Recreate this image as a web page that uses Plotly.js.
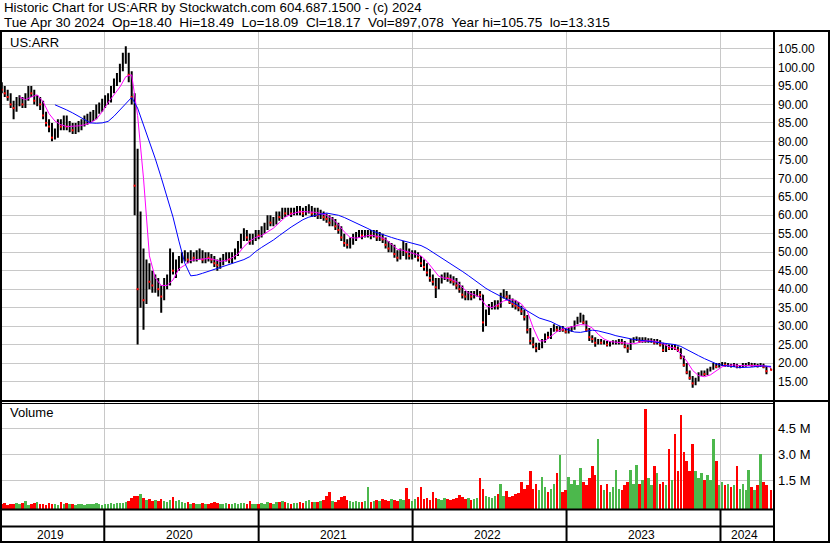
<!DOCTYPE html>
<html><head><meta charset="utf-8">
<script src="https://cdn.plot.ly/plotly-3.0.1.min.js"></script>
<style>html,body{margin:0;padding:0;background:#fff;overflow:hidden}#chart{width:830px;height:543px}</style>
</head><body><div id="chart"></div>
<script>
// ---- data (weekly bars, week ending Friday; last bar = Tue Apr 30 2024) ----
const firstWeekEnd = '2019-05-03';
const lastBarDate = '2024-04-30';
const opens = [95,94,93,92,90,89,91,91,90,92, 94,93,91,91,90,87,85,84,81,82, 85,84,86,84,84,83,84,84,85,86, 86,87,87,89,89,90,91,91.5,94,96,
 97,100,102,103,98,92,68,40,50,37, 45,42,41,42,40,38,41,42,48,45, 46,48,49,49,48,49,48.5,49,49.5,48, 49,48.5,48,47,46.5,47.5,48.5,49,48,49,
 50,52,54,55,54,53,54,55,54.5,56, 57,59,58,58.5,60,59.5,61,60.5,61,60.5, 61,61.5,61,60.5,61.5,62,60.5,61,60,60.5, 59.5,59,58,58.5,57,56,54,52.5,52,53,
 54,54.5,55,54.5,55,55,54.5,55,54,54.5, 53.5,52,51,51.5,49.5,48.5,50,52,50,49, 49.5,49.5,48.5,47,46,44.5,43,42,40.5,42, 43,43.5,43,42.5,42,41,40,38.5,38,38.5,
 38,38.5,39,38.5,31,33.5,35,35.5,36,35.5, 38,39,38,36.5,36,35.5,35,34,32.5,29, 26,25,24,24.5,26,27.5,27,29,29.5,29, 29.5,29,28.5,29,29.5,31,31.5,33,31,29,
 27,26.5,25.5,26,25.5,25.5,25,25.5,25.5,25.5, 26,25.5,24.5,24,26,26.5,26.5,26,26.5,26, 26,26,25.5,26,25,23.5,24.5,24,24.5,24, 23.5,21.5,19.5,17.5,16,14.5,15.5,17,17.5,17,
 18,18.5,19.5,19,19.5,19.8,19.5,19.5,19.2,19.5, 19,19,19.5,19.5,19.8,19.3,19.5,19.2,19.6,19, 18.40];
const highs = [96,95,94,93,91,92,92.5,92,93,95, 95,94,92.5,92,91,88,86,85,83.5,86, 86,87,87,85.5,85,85,85.5,86,87,87.5, 88,88.5,90,90.5,91.5,92.5,93,95,97,98.5,
 101,104,105.75,104,99,93,78,61,51,48, 47,45,44,43,41,43,44,51,50,48, 49,50,50.5,50,50.5,50,50.5,51,50.5,50, 50,49.5,49,48,48.5,49.5,50,50,50,51,
 53,55,56.5,56,55,55,56,56,57,58, 60,60,59.5,61,61,62,62,62,62,62, 62.5,62.5,62,62.5,63,62.5,62,62,61.5,61, 60.5,60,59.5,59,58,57,55,53.5,54,55,
 55.5,56,56,56,56,56,56,56,55.5,55, 54,53,52.5,52,50.5,51,53,52.5,51,50.5, 50.5,50,49,48,47,45.5,44,43,43,44, 44.5,44.5,44,43.5,43,42,41,39.5,39.5,39.5,
 39.5,40,39.5,38.5,34.5,36,36.5,37,37,39, 40,39.5,38.5,37.5,37,36.5,35.5,34.5,33,29.5, 27,25.5,25.5,26.5,28,28.5,29.5,30.5,30,30, 30,29.5,29.5,30,31.5,32.5,33.6,33,31.5,29.5,
 27.5,27,26.5,26.5,26.2,26,26,26.2,26.2,26.5, 26.5,26,25,26.5,27,27.2,27,27,27,26.7, 26.7,26.5,26.5,26.2,25.5,25,25,25,25,24.5, 24,22,20,18,16.5,16,17.5,18,18,18.5,
 19,20,20,20,20.3,20.2,20,19.8,20,19.8, 19.5,20,20,20.3,20,20,19.8,20,19.8,19.2, 18.49];
const lows = [93,92,91,89,86,88,89.5,89,89,91, 92,90,89.5,88.5,86,84,82.5,80,80.5,81, 83,83,83,82.5,82,82,82.5,83,84,84.5, 85,85.5,86,87.5,88,89,90,90.5,93,95,
 96,99,101,96,90,60,25,35,29,36, 40,39,39,38,33.6,37,40,41,44,43, 45,47,47.5,47,47,47.5,47.5,48,47,47, 47.5,47,46,45,45.5,46.5,47.5,47,47,48,
 49,51,53,53,52,52,53,53.5,54,55, 56,57,57,57.5,58.5,59,59.5,60,59.5,60, 60,60,59.5,60,60.5,59.5,59.5,59,59,58.5, 58,57,57,56,55,53,51.5,51,51,52,
 53,54,53.5,54,54,53.5,54,53,53,52.5, 51,50,50,48.5,47.5,48,49,48,48,48, 48.5,47.5,46,45,43.5,42,41,37.6,40,41.5, 42.5,42,41.5,41,40,39,37.5,37,37,37,
 37.5,38,37,28.5,30,33,34.5,34.5,34.5,35, 37.5,37,36,35,34.5,34,33,31.5,28,25, 24,22.9,23.5,24,25.5,26.5,26.5,28.5,28.5,28.5, 28.5,28,28,28.5,29,30.5,31,30.5,28.5,26,
 25.5,24.4,25,25,25,24.5,24.5,25,25,25, 25,24,22.8,23.5,25.5,26,25.5,25.5,25.5,25.5, 25.5,25,25,24.5,23,23,23.5,23.5,23.5,23, 21,19,17,15.5,13.3,14,15,16.5,16.5,16.8,
 17.7,18.2,18.6,18.8,19.2,19,19,18.8,18.9,18.6, 18.6,18.8,19,19.2,19,19,18.8,19,18.6,17, 18.09];
const closes = [94,93,92,90,89,91,91,90,92,94, 93,91,91,90,87,85,84,81,82,85, 84,86,84,84,83,84,84,85,86,86, 87,87,89,89,90,91,91.5,94,96,97,
 100,102,103,98,92,68,40,50,37,45, 42,41,42,40,38,41,42,48,45,46, 48,49,49,48,49,48.5,49,49.5,48,49, 48.5,48,47,46.5,47.5,48.5,49,48,49,50,
 52,54,55,54,53,54,55,54.5,56,57, 59,58,58.5,60,59.5,61,60.5,61,60.5,61, 61.5,61,60.5,61.5,62,60.5,61,60,60.5,59.5, 59,58,58.5,57,56,54,52.5,52,53,54,
 54.5,55,54.5,55,55,54.5,55,54,54.5,53.5, 52,51,51.5,49.5,48.5,50,52,50,49,49.5, 49.5,48.5,47,46,44.5,43,42,40.5,42,43, 43.5,43,42.5,42,41,40,38.5,38,38.5,38,
 38.5,39,38.5,31,33.5,35,35.5,36,35.5,38, 39,38,36.5,36,35.5,35,34,32.5,29,26, 25,24,24.5,26,27.5,27,29,29.5,29,29.5, 29,28.5,29,29.5,31,31.5,33,31,29,27,
 26.5,25.5,26,25.5,25.5,25,25.5,25.5,25.5,26, 25.5,24.5,24,26,26.5,26.5,26,26.5,26,26, 26,25.5,26,25,23.5,24.5,24,24.5,24,23.5, 21.5,19.5,17.5,16,14.5,15.5,17,17.5,17,18,
 18.5,19.5,19,19.5,19.8,19.5,19.5,19.2,19.5,19, 19,19.5,19.5,19.8,19.3,19.5,19.2,19.6,19,17.8, 18.17];
// volume, millions of shares
const volumes = [0.1,0.15,0.08,0.12,0.1,0.14,0.1,0.18,0.3,0.08, 0.1,0.15,0.2,0.12,0.1,0.08,0.15,0.1,0.12,0.08, 0.22,0.12,0.15,0.1,0.12,0.08,0.1,0.12,0.08,0.1, 0.12,0.1,0.15,0.12,0.08,
 0.1,0.12,0.15,0.12,0.15,0.18,0.15,0.2,0.3,0.45, 0.55,0.6,0.69,0.45,0.35,0.4,0.3,0.35,0.28,0.4, 0.3,0.25,0.35,0.53,0.3,0.35,0.2,0.15,0.2,0.12, 0.15,0.12,0.1,0.15,0.12,0.1,0.15,0.25,0.15,0.1,
 0.12,0.15,0.1,0.12,0.15,0.12,0.18,0.15,0.12,0.3, 0.12,0.1,0.12,0.15,0.1,0.2,0.15,0.12,0.25,0.2, 0.3,0.2,0.15,0.12,0.15,
 0.15,0.2,0.15,0.3,0.35,0.2,0.25,0.2,0.3,0.35, 0.6,0.8,0.3,0.25,0.35,0.5,0.55,0.35,0.3,0.25, 0.3,0.25,0.2,0.3,1.1,0.25,0.3,0.35,0.3,0.4, 0.35,0.3,0.4,0.35,0.3,0.4,0.35,1.04,0.4,0.3,
 0.4,0.5,1.1,0.4,0.45,0.35,0.8,0.45,0.4,0.35, 0.45,0.4,0.35,0.4,0.45,0.65,0.5,0.4,0.45,0.35, 0.4,0.45,1.6,1.0,0.6,0.5,0.45,0.55,0.7,1.25, 0.6,0.85,0.5,0.6,0.7,0.75,1.4,1.0,1.2,2.05,
 1.0,1.3,0.9,1.7,1.1,0.8,1.0,1.3,1.9,2.95, 0.8,0.9,1.7,1.3,1.5,1.2,2.2,1.4,1.2,1.6, 2.3,1.8,3.9,1.2,0.9,1.3,0.8,1.1,2.1,1.0, 0.9,1.2,1.4,2.1,1.3,2.4,1.3,1.5,5.6,1.6,
 1.2,2.3,1.9,1.3,1.4,1.2,3.3,1.5,4.2,2.0, 5.3,3.1,2.6,2.0,3.6,2.0,1.6,1.9,1.5,1.8, 1.5,3.9,2.6,1.2,1.4,1.2,1.3,1.1,1.2,2.3, 1.0,1.3,0.9,2.1,1.1,0.9,1.2,3.0,1.4,1.2, 0.9];
// moving averages read every second week (magenta from week 6, blue from week 18), last value at Apr 30
const maShortStartWeek = 6;
const maShort = [92,91.3,92,92.6,90.7,87.5,85.5,84.5,84,84, 84.2,84.5,85,86,88,90.5,92.5,94.7,97.5,98, 87,70,49,43,41,41,42.5,45.5,46.5,47.8,
 48,48.2,48.3,48,47.5,47.8,48.5,49.5,51.5,53, 54,54.5,55.5,56.5,58,59.5,60.3,60.8,61,61, 60.8,60.5,60,59,57.5,55.5,54,53.8,54.2,54.5,
 54.5,54.2,53.5,52.2,50.8,50.5,50,49.5,49,47.5, 45.5,43.5,43,42.8,42,40.5,39,38.5,37.8,35.5, 35,35.8,36.8,37.2,37,36,34,29.5,26,26,
 27.3,28.5,29.2,29.6,30,30.4,30.3,29.5,27.8,26.5, 25.8,25.6,25.6,25.3,25.2,25.6,26,26,25.8,25.2, 24.4,24,22.5,20.5,18,16.6,16.3,16.8,18,19,
 19.4,19.5,19.3,19.3,19.5,19.5,19.3, 18.8];
const maLongStartWeek = 18;
const maLong = [89.9,89.3,88.5,87.7,86.8,85.8,85,84.9,85,85.4, 86.8,88.5,90.3,91.9,89,84.5,79.8,75.3,70.2,65,
 59.5,53,47,43.6,43.8,44.3,44.8,45.4,45.9,46.3, 46.8,47.3,48,48.8,50.2,51.3,52.2,53.3,54.5,55.7, 56.8,57.8,58.8,59.5,60,60.3,60.6,60.4,60,59.4,
 58.7,58,57.2,56.4,55.6,55,54.4,54,53.5,53.1, 52.8,52.4,51.8,51,50,49,48,47,46,44.8, 43.7,42.5,41.2,40.2,39.3,38.4,37.5,36.8,36,35,
 34,33,32.2,31.7,31.2,30.4,29.6,28.9,28.4,28.3, 28.6,28.9,28.7,28.4,27.9,27.4,27,26.7,26.4,26.2, 26,25.9,25.7,25.6,25.4,25,24.5,23.6,22.8,22,
 21.2,20.4,19.8,19.4,19.1,19,18.8,18.8,18.9,19.1,19.2, 19.1];
const priceTicks = [15,20,25,30,35,40,45,50,55,60,65,70,75,80,85,90,95,100,105];
const volTicks = [1.5,3.0,4.5];
const volTickText = ['1.5 M','3.0 M','4.5 M'];
const yearStarts = ['2020-01-01','2021-01-01','2022-01-01','2023-01-01','2024-01-01'];
const yearLabels = ['2019','2020','2021','2022','2023','2024'];
const yearLabelCenters = ['2019-09-01','2020-07-02','2021-07-02','2022-07-02','2023-07-02','2024-03-03'];
const headerLine1 = 'Historic Chart for US:ARR by Stockwatch.com 604.687.1500 - (c) 2024';
const headerLine2 = 'Tue Apr 30 2024  Op=18.40  Hi=18.49  Lo=18.09  Cl=18.17  Vol=897,078  Year hi=105.75  lo=13.315';

// ---- build ----
const DAY = 86400000;
function weekDate(i){ return new Date(Date.UTC(2019,4,3) + i*7*DAY).toISOString().slice(0,10); }
const dates = closes.map((_,i)=> i===closes.length-1 ? lastBarDate : weekDate(i));
function maDates(start, n){ const out=[]; for(let k=0;k<n;k++){ out.push(k===n-1 ? lastBarDate : weekDate(start+2*k)); } return out; }
const W=830, H=543;
const px = x => x/W, py = y => 1 - y/H;
const VOFF = 0.18;
const RED='#ff0000', GREEN='#4cb84c';
const volColors = closes.map((c,i)=> c>=opens[i] ? GREEN : RED);
const downX = [], downC = [];
closes.forEach((c,i)=>{ if(c<opens[i]){ downX.push(dates[i]); downC.push(c); } });

const traces = [
 {type:'ohlc', x:dates, open:opens, high:highs, low:lows, close:closes, xaxis:'x', yaxis:'y',
  increasing:{line:{color:'#000000',width:2}}, decreasing:{line:{color:'#000000',width:2}}, tickwidth:0.2, hoverinfo:'skip'},
 {type:'scatter', mode:'markers', x:downX, y:downC, xaxis:'x', yaxis:'y', marker:{symbol:'square', size:2, color:RED, line:{width:0}}, hoverinfo:'skip'},
 {type:'scatter', mode:'lines', x:maDates(maShortStartWeek, maShort.length), y:maShort, xaxis:'x', yaxis:'y', line:{color:'#ff00ff',width:1}, hoverinfo:'skip'},
 {type:'scatter', mode:'lines', x:maDates(maLongStartWeek, maLong.length), y:maLong, xaxis:'x', yaxis:'y', line:{color:'#0000ff',width:1}, hoverinfo:'skip'},
 {type:'bar', x:dates, y:volumes.map(v=>v+VOFF), base:-VOFF, xaxis:'x', yaxis:'y2', width:6*DAY,
  marker:{color:volColors, line:{width:0}}, hoverinfo:'skip'}
];

const GRID='#c8c8c8';
const font = {family:'Arial, "Liberation Sans", sans-serif', color:'#000'};
const shapes = [];
function hline(y, x0, x1, w){ shapes.push({type:'line', xref:'paper', yref:'paper', x0:px(x0), x1:px(x1), y0:py(y), y1:py(y), line:{color:'#000', width:w}}); }
function vline(x, y0, y1, w){ shapes.push({type:'line', xref:'paper', yref:'paper', x0:px(x), x1:px(x), y0:py(y0), y1:py(y1), line:{color:'#000', width:w}}); }
hline(31, 0, 830, 2);
hline(401, 0, 830, 2);
hline(403.5, 0, 774, 1);
hline(509.5, 0, 774, 2);
hline(526.5, 0, 774, 2);
hline(542, 0, 830, 2);
vline(1, 31, 543, 2);
vline(774, 31, 543, 2);
vline(829, 31, 543, 2);
yearStarts.forEach(d => shapes.push({type:'line', xref:'x', yref:'paper', x0:d, x1:d, y0:py(510), y1:py(542), line:{color:'#000', width:2}}));

const annotations = [
 {text:headerLine1.replace(/ /g,'\u00a0'), xref:'paper', yref:'paper', x:px(2), y:py(8), xanchor:'left', yanchor:'middle', showarrow:false, font:{...font, size:13.3}},
 {text:headerLine2.replace(/ /g,'\u00a0'), xref:'paper', yref:'paper', x:px(2), y:py(22.5), xanchor:'left', yanchor:'middle', showarrow:false, font:{...font, size:13.55}},
 {text:'US:ARR', xref:'paper', yref:'paper', x:px(8), y:py(42), xanchor:'left', yanchor:'middle', showarrow:false, font:{...font, size:13}},
 {text:'Volume', xref:'paper', yref:'paper', x:px(8), y:py(413), xanchor:'left', yanchor:'middle', showarrow:false, font:{...font, size:13}}
];
yearLabels.forEach((t,i)=> annotations.push({text:t, xref:'x', yref:'paper', x:yearLabelCenters[i], y:py(534.5), xshift:-2, xanchor:'center', yanchor:'middle', showarrow:false, font:{...font, size:12}}));

const layout = {
 width:W, height:H, margin:{l:0,r:0,t:0,b:0}, paper_bgcolor:'#fff', plot_bgcolor:'#fff', showlegend:false,
 font:font, dragmode:false, bargap:0,
 xaxis:{type:'date', domain:[px(2), px(773)], range:['2019-05-03 12:00','2024-05-04 12:00'], anchor:'y2',
   tickvals:yearStarts, showticklabels:false, ticks:'', showgrid:true, gridcolor:GRID, gridwidth:1, zeroline:false, showline:false,
   rangeslider:{visible:false}, fixedrange:true},
 yaxis:{domain:[py(400), py(31)], range:[10, 109.87], side:'right', anchor:'x', tickvals:priceTicks, ticktext:priceTicks.map(v=>v.toFixed(2)),
   showgrid:true, gridcolor:GRID, gridwidth:1, ticks:'', zeroline:false, showline:false, tickfont:{...font, size:12}, ticklabelstandoff:4, fixedrange:true},
 yaxis2:{domain:[py(509), py(402)], range:[-VOFF, 6.03], side:'right', anchor:'x', tickvals:volTicks, ticktext:volTickText,
   showgrid:true, gridcolor:GRID, gridwidth:1, ticks:'', zeroline:false, showline:false, tickfont:{...font, size:13}, ticklabelstandoff:4, fixedrange:true},
 shapes:shapes, annotations:annotations
};
Plotly.newPlot('chart', traces, layout, {staticPlot:true, displayModeBar:false});
</script></body></html>
